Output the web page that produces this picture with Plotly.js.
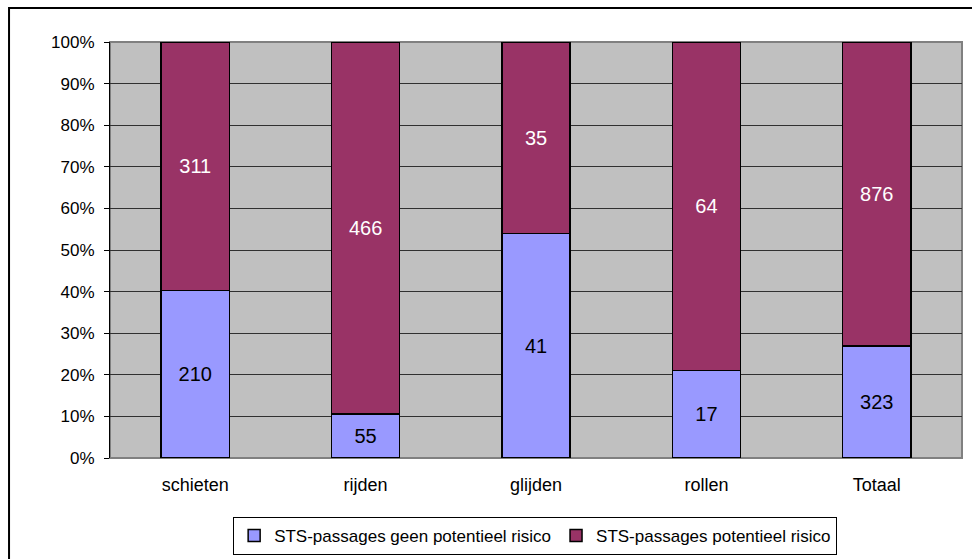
<!DOCTYPE html>
<html><head><meta charset="utf-8">
<script src="https://cdn.plot.ly/plotly-3.0.1.min.js"></script>
<style>html,body{margin:0;padding:0;background:#fff;}#chart{width:972px;height:559px;}</style>
</head><body><div id="chart"></div>
<script>
const categories = ["schieten", "rijden", "glijden", "rollen", "Totaal"];
const geenRisico = [210, 55, 41, 17, 323];
const welRisico = [311, 466, 35, 64, 876];
const seriesNames = ["STS-passages geen potentieel risico", "STS-passages potentieel risico"];
const yTicks = [0,10,20,30,40,50,60,70,80,90,100];

const font = "Liberation Sans, Arial, sans-serif";
const traces = [
  {type:'bar', name:seriesNames[0], x:categories, y:geenRisico, text:geenRisico.map(String),
   textposition:'inside', insidetextanchor:'middle', textangle:0, constraintext:'none',
   textfont:{family:font,size:20,color:'#000'},
   marker:{color:'#9999FF', line:{color:'#000', width:1.5}}, hoverinfo:'none'},
  {type:'bar', name:seriesNames[1], x:categories, y:welRisico, text:welRisico.map(String),
   textposition:'inside', insidetextanchor:'middle', textangle:0, constraintext:'none',
   textfont:{family:font,size:20,color:'#fff'},
   marker:{color:'#993366', line:{color:'#000', width:1.5}}, hoverinfo:'none'}
];
const layout = {
  width:972, height:559,
  margin:{l:110, r:10, t:42, b:101, autoexpand:false},
  paper_bgcolor:'#fff', plot_bgcolor:'#C0C0C0',
  barmode:'stack', barnorm:'percent', bargap:0.6,
  font:{family:font, size:16, color:'#000'},
  showlegend:true,
  legend:{orientation:'h', x:0.499, xanchor:'center', y:-0.142, yanchor:'top',
    bordercolor:'#000', borderwidth:1, font:{family:font,size:17}, traceorder:'normal', itemwidth:30},
  xaxis:{showgrid:false, ticks:'', tickfont:{family:font,size:18}, showline:false, zeroline:false, ticklabelstandoff:14},
  yaxis:{range:[0,100], tickvals:yTicks, ticktext:yTicks.map(v=>v+'%'), showgrid:true, gridcolor:'#303030', gridwidth:1,
    ticks:'outside', ticklen:5, tickcolor:'#000', showline:true, linecolor:'#000', linewidth:1,
    zeroline:false, tickfont:{family:font,size:17}, ticklabelstandoff:6},
  shapes:[
    {type:'rect', xref:'paper', yref:'paper', x0:0, x1:1, y0:0, y1:1, line:{color:'#808080', width:2}, layer:'below'},
    {type:'rect', xref:'paper', yref:'paper', x0:-0.1185, x1:1.1, y0:-0.4, y1:1.0817, line:{color:'#000', width:2}}
  ]
};
Plotly.newPlot('chart', traces, layout, {displayModeBar:false, staticPlot:true});
</script></body></html>
